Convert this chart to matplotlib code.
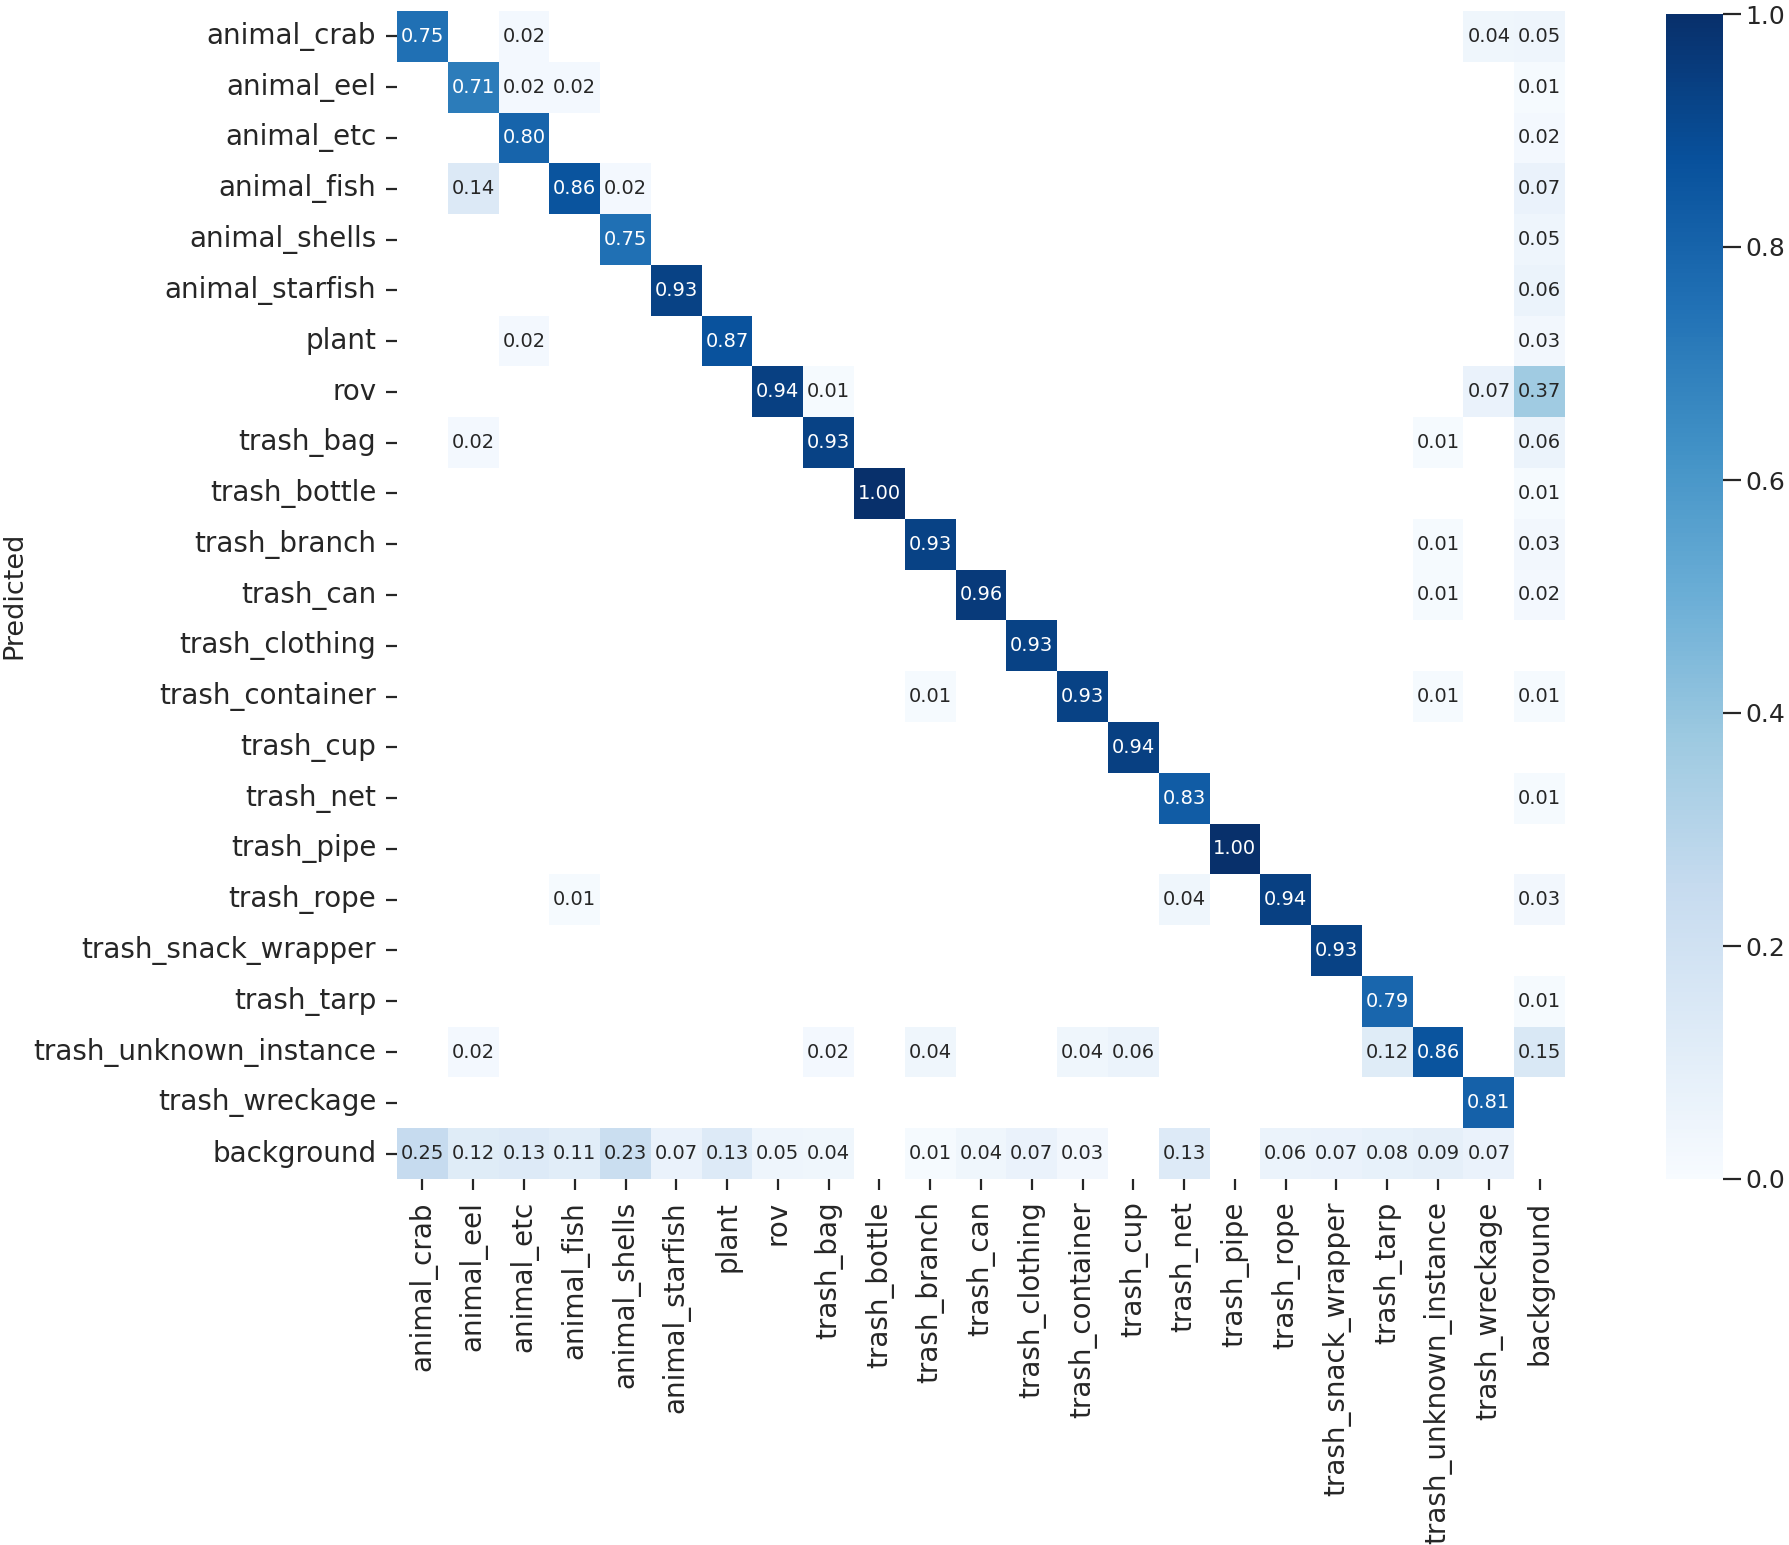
import numpy as np
import matplotlib
matplotlib.use("Agg")
import matplotlib.pyplot as plt
import seaborn as sns

classes = ["animal_crab", "animal_eel", "animal_etc", "animal_fish", "animal_shells",
           "animal_starfish", "plant", "rov", "trash_bag", "trash_bottle", "trash_branch",
           "trash_can", "trash_clothing", "trash_container", "trash_cup", "trash_net",
           "trash_pipe", "trash_rope", "trash_snack_wrapper", "trash_tarp",
           "trash_unknown_instance", "trash_wreckage", "background"]

# rows = predicted, {column index: value}
row_animal_crab = {0: 0.75, 2: 0.02, 21: 0.04, 22: 0.05}
row_animal_eel = {1: 0.71, 2: 0.02, 3: 0.02, 22: 0.01}
row_animal_etc = {2: 0.80, 22: 0.02}
row_animal_fish = {1: 0.14, 3: 0.86, 4: 0.02, 22: 0.07}
row_animal_shells = {4: 0.75, 22: 0.05}
row_animal_starfish = {5: 0.93, 22: 0.06}
row_plant = {2: 0.02, 6: 0.87, 22: 0.03}
row_rov = {7: 0.94, 8: 0.01, 21: 0.07, 22: 0.37}
row_trash_bag = {1: 0.02, 8: 0.93, 20: 0.01, 22: 0.06}
row_trash_bottle = {9: 1.00, 22: 0.01}
row_trash_branch = {10: 0.93, 20: 0.01, 22: 0.03}
row_trash_can = {11: 0.96, 20: 0.01, 22: 0.02}
row_trash_clothing = {12: 0.93}
row_trash_container = {10: 0.01, 13: 0.93, 20: 0.01, 22: 0.01}
row_trash_cup = {14: 0.94}
row_trash_net = {15: 0.83, 22: 0.01}
row_trash_pipe = {16: 1.00}
row_trash_rope = {3: 0.01, 15: 0.04, 17: 0.94, 22: 0.03}
row_trash_snack_wrapper = {18: 0.93}
row_trash_tarp = {19: 0.79, 22: 0.01}
row_trash_unknown_instance = {1: 0.02, 8: 0.02, 10: 0.04, 13: 0.04, 14: 0.06,
                              19: 0.12, 20: 0.86, 22: 0.15}
row_trash_wreckage = {21: 0.81}
row_background = {0: 0.25, 1: 0.12, 2: 0.13, 3: 0.11, 4: 0.23, 5: 0.07, 6: 0.13,
                  7: 0.05, 8: 0.04, 10: 0.01, 11: 0.04, 12: 0.07, 13: 0.03,
                  15: 0.13, 17: 0.06, 18: 0.07, 19: 0.08, 20: 0.09, 21: 0.07}

rows = [row_animal_crab, row_animal_eel, row_animal_etc, row_animal_fish,
        row_animal_shells, row_animal_starfish, row_plant, row_rov, row_trash_bag,
        row_trash_bottle, row_trash_branch, row_trash_can, row_trash_clothing,
        row_trash_container, row_trash_cup, row_trash_net, row_trash_pipe,
        row_trash_rope, row_trash_snack_wrapper, row_trash_tarp,
        row_trash_unknown_instance, row_trash_wreckage, row_background]

n = len(classes)
mat = np.full((n, n), np.nan)
for i, r in enumerate(rows):
    for j, v in r.items():
        mat[i, j] = v

W, H = 1789, 1545
fig = plt.figure(figsize=(W / 100, H / 100), dpi=100)
ax = fig.add_axes([397 / W, 1 - 1179 / H, 1168 / W, 1168 / H])
cax = fig.add_axes([1666 / W, 1 - 1179 / H, 57 / W, 1165 / H])

txt = "#262626"
sns.heatmap(mat, ax=ax, cbar_ax=cax, annot=True, fmt=".2f", cmap="Blues",
            vmin=0.0, vmax=1.0, square=True, annot_kws={"size": 14},
            xticklabels=classes, yticklabels=classes)
ax.set_facecolor("white")

ax.tick_params(axis="y", length=8, width=1.6, pad=7, labelsize=20,
               colors=txt, labelrotation=0)
ax.tick_params(axis="x", length=8, width=1.6, pad=8, labelsize=20,
               colors=txt, labelrotation=90)
for lab in ax.get_xticklabels():
    lab.set_va("top")
    lab.set_ha("center")

cax.tick_params(length=13, width=1.6, pad=3, labelsize=18, colors=txt)
cax.set_yticks([0.0, 0.2, 0.4, 0.6, 0.8, 1.0])
cax.set_yticklabels(["0.0", "0.2", "0.4", "0.6", "0.8", "1.0"])
for s in cax.spines.values():
    s.set_visible(False)

fig.text(14 / W, 1 - 595 / H, "Predicted", rotation=90, va="center", ha="center",
         fontsize=19.5, color=txt)

fig.savefig("out.png", dpi=100, facecolor="white")
